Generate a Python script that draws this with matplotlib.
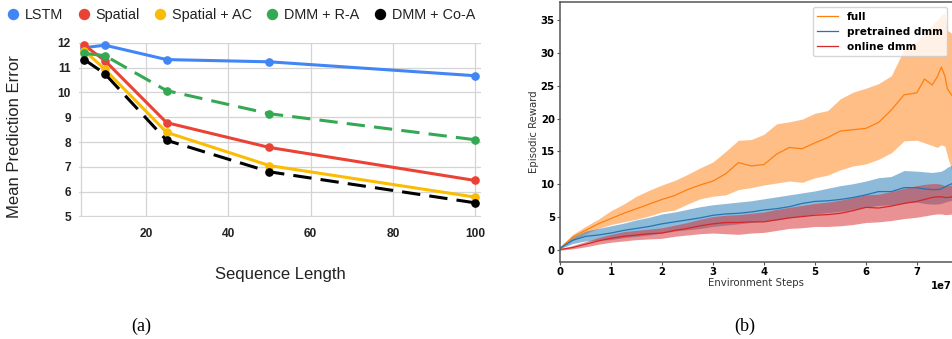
import matplotlib
matplotlib.use("Agg")
import matplotlib.pyplot as plt
from matplotlib.lines import Line2D
import numpy as np

# ---------------- Panel (a) data ----------------
seq_len = [5, 10, 25, 50, 100]
lstm = [11.8, 11.9, 11.32, 11.23, 10.67]
spatial = [11.9, 11.28, 8.78, 7.78, 6.45]
spatial_ac = [11.68, 10.93, 8.39, 7.05, 5.78]
dmm_ra = [11.57, 11.48, 10.07, 9.14, 8.09]
dmm_coa = [11.32, 10.75, 8.07, 6.80, 5.55]
a_names = ["LSTM", "Spatial", "Spatial + AC", "DMM + R-A", "DMM + Co-A"]
a_colors = ["#4285F4", "#EA4335", "#FBBC04", "#34A853", "#000000"]
a_dashed = [False, False, False, True, True]
a_xticks = [20, 40, 60, 80, 100]
a_yticks = [5, 6, 7, 8, 9, 10, 11, 12]

# ---------------- Panel (b) data ----------------
steps_e7 = [0, 0.25, 0.5, 0.75, 1.0, 1.25, 1.5, 1.75, 2.0, 2.25, 2.5, 2.75,
            3.0, 3.25, 3.5, 3.75, 4.0, 4.25, 4.5, 4.75, 5.0, 5.25, 5.5, 5.75,
            6.0, 6.25, 6.5, 6.75, 7.0, 7.15, 7.3, 7.4, 7.48, 7.55, 7.6, 7.69]
full_mean = [0.3, 2.0, 3.0, 4.0, 4.8, 5.6, 6.3, 7.0, 7.7, 8.3, 9.2, 9.9,
             10.5, 11.6, 13.3, 12.8, 13.0, 14.6, 15.6, 15.4, 16.3, 17.1, 18.1, 18.3,
             18.5, 19.4, 21.3, 23.6, 23.9, 26.0, 25.1, 26.3, 27.8, 26.5, 24.5, 23.5]
full_upper = [0.4, 2.4, 3.6, 4.7, 6.0, 7.0, 8.2, 9.1, 9.9, 10.6, 11.5, 12.5,
              13.4, 15.0, 16.7, 16.8, 17.6, 19.2, 19.5, 19.9, 20.8, 21.2, 23.0, 24.0,
              24.6, 25.3, 26.5, 30.5, 31.8, 33.0, 34.2, 35.0, 35.7, 36.0, 33.4, 32.9]
full_lower = [0.2, 1.5, 2.5, 3.3, 3.9, 4.3, 4.7, 5.2, 5.8, 6.1, 7.0, 7.8,
              8.2, 8.4, 9.2, 9.5, 9.9, 10.2, 10.5, 10.3, 11.0, 11.4, 12.2, 12.8,
              13.1, 13.8, 14.8, 16.6, 16.7, 16.3, 15.9, 15.6, 16.0, 15.8, 14.3, 12.0]
pre_mean = [0.3, 1.5, 2.1, 2.3, 2.6, 3.0, 3.3, 3.6, 4.0, 4.3, 4.6, 4.9,
            5.3, 5.5, 5.6, 5.8, 6.1, 6.3, 6.6, 7.1, 7.4, 7.5, 7.7, 8.0,
            8.4, 8.9, 8.9, 9.5, 9.5, 9.3, 9.2, 9.2, 9.3, 9.6, 9.8, 10.1]
pre_upper = [0.4, 2.0, 2.9, 3.3, 3.7, 4.1, 4.6, 5.0, 5.5, 5.8, 6.2, 6.6,
             6.9, 7.1, 7.3, 7.5, 7.8, 8.1, 8.4, 8.7, 9.0, 9.4, 9.8, 10.1,
             10.5, 11.0, 11.2, 12.1, 12.0, 11.9, 11.8, 11.9, 12.0, 12.3, 12.6, 12.9]
pre_lower = [0.2, 1.0, 1.4, 1.5, 1.6, 1.9, 2.1, 2.3, 2.6, 2.9, 3.1, 3.3,
             3.6, 3.8, 4.0, 4.2, 4.4, 4.6, 4.9, 5.2, 5.5, 5.7, 5.9, 6.2,
             6.5, 6.8, 6.9, 7.2, 7.3, 7.1, 7.0, 7.0, 7.1, 7.3, 7.4, 7.6]
onl_mean = [0.1, 0.4, 0.9, 1.4, 1.8, 2.1, 2.3, 2.5, 2.6, 3.0, 3.3, 3.7,
            4.0, 4.2, 4.2, 4.3, 4.3, 4.6, 4.9, 5.1, 5.3, 5.4, 5.6, 6.0,
            6.5, 6.4, 6.7, 7.1, 7.4, 7.7, 8.0, 8.1, 8.1, 8.0, 8.0, 8.1]
onl_upper = [0.2, 0.7, 1.3, 1.9, 2.4, 2.8, 3.0, 3.2, 3.4, 3.8, 4.2, 4.7,
             5.1, 5.3, 5.4, 5.6, 5.8, 6.2, 6.5, 6.8, 7.1, 7.3, 7.6, 8.0,
             8.4, 8.5, 8.9, 9.4, 9.8, 10.0, 10.1, 10.1, 10.0, 9.8, 9.8, 9.9]
onl_lower = [0.0, 0.2, 0.5, 0.9, 1.2, 1.4, 1.6, 1.7, 1.8, 2.1, 2.3, 2.5,
             2.6, 2.5, 2.4, 2.6, 2.7, 3.0, 3.3, 3.4, 3.6, 3.6, 3.7, 3.9,
             4.2, 4.3, 4.5, 4.8, 5.0, 5.2, 5.4, 5.5, 5.5, 5.4, 5.4, 5.5]
b_names = ["full", "pretrained dmm", "online dmm"]
b_colors = ["#ff7f0e", "#1f77b4", "#d62728"]
b_yticks = [0, 5, 10, 15, 20, 25, 30, 35]
b_xticks_e7 = [0, 1, 2, 3, 4, 5, 6, 7]

W, H = 952, 339
fig = plt.figure(figsize=(W / 100, H / 100), dpi=100)

def fx(px):
    return px / W

def fy(py):
    return 1 - py / H

# ---------------- Panel (a) ----------------
sans = ["Liberation Sans", "DejaVu Sans"]
axa = fig.add_axes([fx(79), fy(216.5), fx(481) - fx(79), fy(42.7) - fy(216.5)])
axa.set_xlim(3.72, 101.4)
axa.set_ylim(5, 12)
grid_c = "#d4d4d4"
for t in a_xticks:
    axa.axvline(t, color=grid_c, lw=0.9, zorder=0)
axa.axvline(4.2, color=grid_c, lw=0.9, zorder=0)
for t in a_yticks:
    axa.axhline(t, color=grid_c, lw=0.9, zorder=0)
series_a = [lstm, spatial, spatial_ac, dmm_ra, dmm_coa]
for vals, c, d in zip(series_a, a_colors, a_dashed):
    ln, = axa.plot(seq_len, vals, color=c, lw=2.2, marker="o", ms=5.2,
                   clip_on=False, zorder=3)
    if d:
        ln.set_dashes((6, 3))
for s in axa.spines.values():
    s.set_visible(False)
axa.set_xticks(a_xticks)
axa.set_yticks(a_yticks)
axa.tick_params(length=0)
axa.tick_params(axis="y", pad=5.8)
axa.tick_params(axis="x", pad=8)
for lab in axa.get_xticklabels() + axa.get_yticklabels():
    lab.set_family(sans)
    lab.set_fontweight("bold")
    lab.set_fontsize(8.6)
    lab.set_color("#222222")
fig.text(fx(280.5), fy(275), "Sequence Length", ha="center", va="center",
         fontsize=12, family=sans, color="#222222")
fig.text(fx(15), fy(137), "Mean Prediction Error", ha="center", va="center",
         rotation=90, fontsize=12, family=sans, color="#222222")
handles = [Line2D([], [], ls="none", marker="o", ms=7.2, color=c) for c in a_colors]
fig.legend(handles, a_names, loc="center left", bbox_to_anchor=(fx(8), fy(15)),
           ncol=5, frameon=False, borderpad=0, borderaxespad=0,
           handlelength=0.7, handletextpad=0.48, columnspacing=1.05,
           prop={"family": sans, "size": 10.4}, labelcolor="#222222")

# ---------------- Panel (b) ----------------
axb = fig.add_axes([fx(560), fy(262), fx(952) - fx(560), fy(2) - fy(262)])
xs = np.array(steps_e7) * 1e7
bands = [(full_mean, full_lower, full_upper),
         (pre_mean, pre_lower, pre_upper),
         (onl_mean, onl_lower, onl_upper)]
for (m, lo, hi), c, n in zip(bands, b_colors, b_names):
    axb.fill_between(xs, lo, hi, color=c, alpha=0.5, lw=0)
    axb.plot(xs, m, color=c, lw=0.9, label=n)
axb.set_xlim(0, 7.69e7)
axb.set_ylim(-1.8, 37.7)
axb.set_yticks(b_yticks)
axb.set_xticks(np.array(b_xticks_e7) * 1e7)
axb.spines["right"].set_visible(False)
for k in ("left", "bottom", "top"):
    axb.spines[k].set_color("#555555")
    axb.spines[k].set_linewidth(1.1)
axb.tick_params(length=2.5, width=0.8, pad=1.2, labelsize=7.3, color="#555555")
for lab in axb.get_xticklabels() + axb.get_yticklabels():
    lab.set_fontweight("bold")
axb.xaxis.get_offset_text().set_fontweight("bold")
axb.xaxis.get_offset_text().set_fontsize(7.3)
axb.set_xlabel("Environment Steps", fontsize=7.3, labelpad=0.5, color="#333333")
axb.set_ylabel("Episodic Reward", fontsize=7.3, labelpad=1.5, color="#333333")
leg = axb.legend(loc="upper right", prop={"weight": "bold", "size": 7.6},
                 handlelength=2.0, borderaxespad=0.5)

# captions
serif = ["Liberation Serif", "DejaVu Serif"]
fig.text(fx(141), fy(326), "(a)", ha="center", va="center", fontsize=13, family=serif)
fig.text(fx(745), fy(326), "(b)", ha="center", va="center", fontsize=13, family=serif)

fig.savefig("out.png", dpi=100)
